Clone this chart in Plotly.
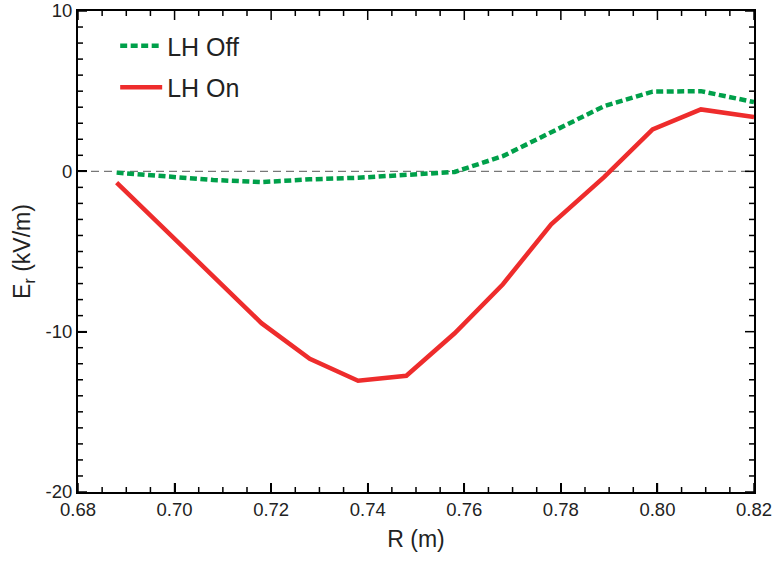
import numpy as np
import plotly.graph_objects as go

# Data
r_m = [0.688, 0.698, 0.708, 0.718, 0.728, 0.738, 0.748, 0.758, 0.768, 0.778, 0.789, 0.799, 0.809, 0.820]
er_lh_off = [-0.08, -0.33, -0.54, -0.67, -0.5, -0.4, -0.19, -0.04, 0.95, 2.4, 4.07, 4.97, 5.0, 4.32]
er_lh_on = [-0.7, -3.6, -6.5, -9.47, -11.7, -13.06, -12.75, -10.1, -7.04, -3.3, -0.35, 2.62, 3.86, 3.38]

x_ticks = [0.68, 0.70, 0.72, 0.74, 0.76, 0.78, 0.80, 0.82]
x_ticklabels = ["0.68", "0.70", "0.72", "0.74", "0.76", "0.78", "0.80", "0.82"]
y_ticks = [-20, -10, 0, 10]
y_ticklabels = ["-20", "-10", "0", "10"]
x_minor_step = 0.005
y_minor_step = 1

FONT = "Liberation Sans, Arial, Helvetica, sans-serif"
TXT = "#222222"

W, H = 774, 562
ML, MR, MT, MB = 78, 20, 11, 70
plot_w = W - ML - MR
plot_h = H - MT - MB

fig = go.Figure()
fig.add_trace(go.Scatter(
    x=r_m, y=er_lh_off, mode="lines", name="LH Off", legendgroup="a",
    line=dict(color="#00A04A", width=4.5, dash="7px,3.5px"),
))
fig.add_trace(go.Scatter(
    x=r_m, y=er_lh_on, mode="lines", name="LH On", legendgroup="b",
    line=dict(color="#EE2C2C", width=4.5),
))

fig.add_shape(type="line", xref="paper", x0=0, x1=1, yref="y", y0=0, y1=0,
              line=dict(color="#777777", width=1.2, dash="8px,5px"), layer="below")

# Inward tick marks on all four sides, placed through the axis scales
x_minor = np.round(np.arange(x_ticks[0], x_ticks[-1] + 1e-9, x_minor_step), 4)
y_minor = np.arange(y_ticks[0], y_ticks[-1] + 1e-9, y_minor_step)
tick_line = dict(color="black", width=1.5)
for xv in x_minor:
    major = any(abs(xv - t) < 1e-6 for t in x_ticks)
    ln = (9 if major else 5) / plot_h
    fig.add_shape(type="line", xref="x", x0=xv, x1=xv, yref="paper", y0=0, y1=ln, line=tick_line)
    fig.add_shape(type="line", xref="x", x0=xv, x1=xv, yref="paper", y0=1, y1=1 - ln, line=tick_line)
for yv in y_minor:
    major = any(abs(yv - t) < 1e-6 for t in y_ticks)
    ln = (9 if major else 5) / plot_w
    fig.add_shape(type="line", yref="y", y0=yv, y1=yv, xref="paper", x0=0, x1=ln, line=tick_line)
    fig.add_shape(type="line", yref="y", y0=yv, y1=yv, xref="paper", x0=1, x1=1 - ln, line=tick_line)

axis_common = dict(
    showline=True, linecolor="black", linewidth=2, mirror=True,
    ticks="inside", ticklen=9, tickwidth=1.5, tickcolor="black",
    showgrid=False, zeroline=False, automargin=False,
    tickfont=dict(family=FONT, size=18.5, color=TXT),
)

fig.update_xaxes(
    range=[0.68, 0.82], tickmode="array", tickvals=x_ticks, ticktext=x_ticklabels,
    title=dict(text="R (m)", font=dict(family=FONT, size=23, color=TXT), standoff=12),
    **axis_common,
)
fig.update_yaxes(
    range=[-20, 10], tickmode="array", tickvals=y_ticks, ticktext=y_ticklabels,
    title=dict(text="E<sub>r</sub> (kV/m)", font=dict(family=FONT, size=23, color=TXT), standoff=8),
    **axis_common,
)

fig.update_layout(
    width=W, height=H,
    margin=dict(l=ML, r=MR, t=MT, b=MB),
    paper_bgcolor="white", plot_bgcolor="rgba(0,0,0,0)",
    font=dict(family=FONT, color=TXT),
    legend=dict(x=0.055, y=0.975, xanchor="left", yanchor="top",
                font=dict(family=FONT, size=25, color=TXT),
                bgcolor="rgba(0,0,0,0)", tracegroupgap=6, itemwidth=42),
)

fig.write_html("out.html", config={"displayModeBar": False},
               post_script="document.body.style.margin='0';document.body.style.overflow='hidden';")
